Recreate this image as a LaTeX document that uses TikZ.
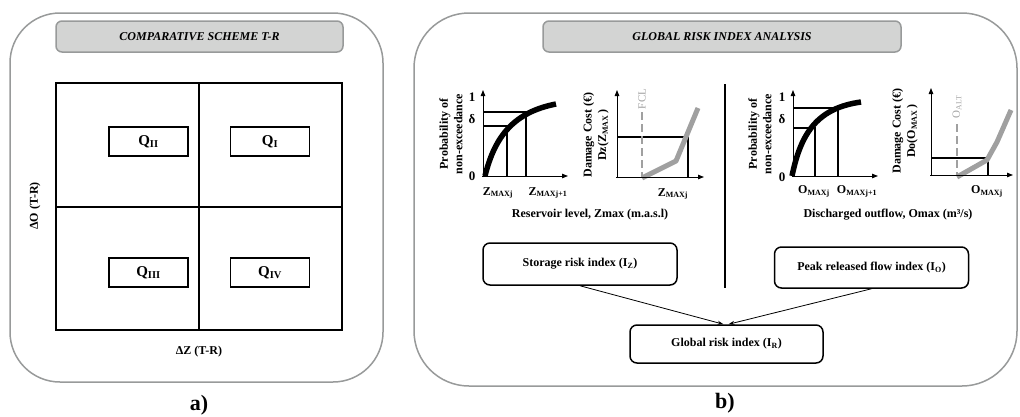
\documentclass[tikz,border=0pt]{standalone}
\usepackage{fontspec}
\setmainfont{Liberation Serif}
\usetikzlibrary{arrows.meta}
\definecolor{bordergray}{RGB}{152,154,154}
\definecolor{titlefill}{RGB}{211,212,211}
\definecolor{curvegray}{RGB}{160,160,160}
\begin{document}
\begin{tikzpicture}[x=1pt,y=-1pt,
  panel/.style={draw=bordergray, line width=1.5pt},
  titlebox/.style={draw=bordergray, fill=titlefill, line width=1.5pt, rounded corners=6pt,
    font=\bfseries\itshape\fontsize{12}{14}\selectfont, inner sep=0pt},
  qbox/.style={draw, line width=1.5pt, minimum width=79pt, minimum height=29pt, inner sep=0pt,
    font=\bfseries\fontsize{15}{17}\selectfont},
  lbl/.style={font=\bfseries\fontsize{12}{14}\selectfont, inner sep=0pt},
  ticklbl/.style={font=\bfseries\fontsize{13}{15}\selectfont, inner sep=0pt},
  ylbl/.style={lbl, rotate=90, align=center, font=\bfseries\fontsize{12}{14.5}\selectfont},
  thrlbl/.style={inner sep=0pt, rotate=90, text=curvegray, font=\fontsize{11}{13}\selectfont},
  caption/.style={font=\bfseries\fontsize{22}{24}\selectfont, inner sep=0pt},
  idxbox/.style={draw, line width=1.5pt, rounded corners=7pt, inner sep=0pt,
    font=\bfseries\fontsize{12}{14}\selectfont},
  axis/.style={line width=0.9pt, -{Triangle[length=6pt,width=4.5pt]}},
  guide/.style={line width=1.8pt},
  probcurve/.style={line width=5.5pt},
  dmgcurve/.style={curvegray, line width=5pt, line join=round},
  threshold/.style={curvegray, line width=2pt, dash pattern=on 8pt off 4pt},
  link/.style={line width=0.8pt, -{Stealth[length=6pt,width=4pt]}}]
\useasboundingbox (0,0) rectangle (1020,416);

% ---------------- panel a ----------------
\draw[panel, rounded corners=50pt] (10,13) rectangle (383,382);
\node[titlebox, minimum width=287pt, minimum height=31pt] (titleA) at (199.5,36.5) {COMPARATIVE SCHEME T-R};
\draw[line width=1.5pt] (56,83) rectangle (342,330);
\draw[line width=1.5pt] (199,83) -- (199,330);
\draw[line width=1.5pt] (56,207) -- (342,207);
\node[qbox] (q2) at (148.5,141.5) {Q\textsubscript{II}};
\node[qbox] (q1) at (270,141.5) {Q\textsubscript{I}};
\node[qbox] (q3) at (148.5,272.5) {Q\textsubscript{III}};
\node[qbox] (q4) at (270,272.5) {Q\textsubscript{IV}};
\node[lbl, rotate=90] (dO) at (35,206) {ΔO (T-R)};
\node[lbl] (dZ) at (199,352) {ΔZ (T-R)};
\node[caption] (capA) at (199,405) {a)};

% ---------------- panel b ----------------
\draw[panel, rounded corners=55pt] (414,13) rectangle (1017,386);
\node[titlebox, minimum width=358pt, minimum height=31pt] (titleB) at (722,36.5) {GLOBAL RISK INDEX ANALYSIS};
\draw[line width=1.8pt] (725,84) -- (725,288);

% left probability graph
\draw[guide] (483,126) -- (507,126) -- (507,176);
\draw[guide] (483,112) -- (526,112) -- (526,176);
\draw[probcurve] (485,176) .. controls (495,135) and (515,112) .. (556,104);
\draw[axis] (483,177) -- (483,90);
\draw[axis] (482,176) -- (568,176);
\node[ticklbl] (one1) at (472,97) {1};
\node[ticklbl] (del1) at (472,119) {δ};
\node[ticklbl] (zero1) at (472,176) {0};
\node[ylbl] (py1) at (451,134) {Probability of\\non-exceedance};
\node[lbl] (zj) at (498,193) {Z\textsubscript{MAXj}};
\node[lbl] (zj1) at (548,193) {Z\textsubscript{MAXj+1}};

% left damage graph
\draw[guide] (617,137) -- (688,137) -- (688,177);
\draw[threshold] (642,112) -- (642,177);
\draw[dmgcurve] (642,178) -- (676,161) -- (698,108);
\draw[axis] (617,178) -- (617,90);
\draw[axis] (616,177) -- (704,177);
\node[thrlbl] (fcl) at (642,99) {FCL};
\node[ylbl] (dy1) at (596,135) {Damage Cost (€)\\Dz(Z\textsubscript{MAX}\,)};
\node[lbl] (zjd) at (673,194) {Z\textsubscript{MAXj}};
\node[lbl] (xl1) at (590,215) {Reservoir level, Zmax (m.a.s.l)};

% right probability graph
\draw[guide] (793,128) -- (815,128) -- (815,176);
\draw[guide] (793,108) -- (838,108) -- (838,176);
\draw[probcurve] (792,176) .. controls (801,132) and (818,108) .. (861,102);
\draw[axis] (793,177) -- (793,90);
\draw[axis] (792,176) -- (878,176);
\node[ticklbl] (one2) at (782,97) {1};
\node[ticklbl] (del2) at (782,119) {δ};
\node[ticklbl] (zero2) at (782,177) {0};
\node[ylbl] (py2) at (760,134) {Probability of\\non-exceedance};
\node[lbl] (oj) at (814,191) {O\textsubscript{MAXj}};
\node[lbl] (oj1) at (857,191) {O\textsubscript{MAXj+1}};

% right damage graph
\draw[guide] (931,158) -- (988,158) -- (988,175);
\draw[threshold] (957,124) -- (957,175);
\draw[dmgcurve] (957,177) -- (987,160) -- (997,142) -- (1011,110);
\draw[axis] (931,176) -- (931,88);
\draw[axis] (930,175) -- (1013,175);
\node[thrlbl] (oalt) at (957,107) {O\textsubscript{ALT}};
\node[ylbl] (dy2) at (905,131) {Damage Cost (€)\\Do(O\textsubscript{MAX}\,)};
\node[lbl] (ojd) at (987,191) {O\textsubscript{MAXj}};
\node[lbl] (xl2) at (888,215) {Discharged outflow, Omax (m³/s)};

% index boxes
\node[idxbox, minimum width=194pt, minimum height=42pt] (store) at (580,264) {Storage risk index (I\textsubscript{Z})};
\node[idxbox, minimum width=194pt, minimum height=41pt] (peak) at (871.5,267.5) {Peak released flow index (I\textsubscript{O})};
\node[idxbox, minimum width=193pt, minimum height=38pt] (glob) at (726.5,344) {Global risk index (I\textsubscript{R})};
\draw[link] (store.south) -- ([xshift=-3pt]glob.north);
\draw[link] (peak.south) -- ([xshift=2pt]glob.north);
\node[caption] (capB) at (725,403) {b)};
\end{tikzpicture}
\end{document}
